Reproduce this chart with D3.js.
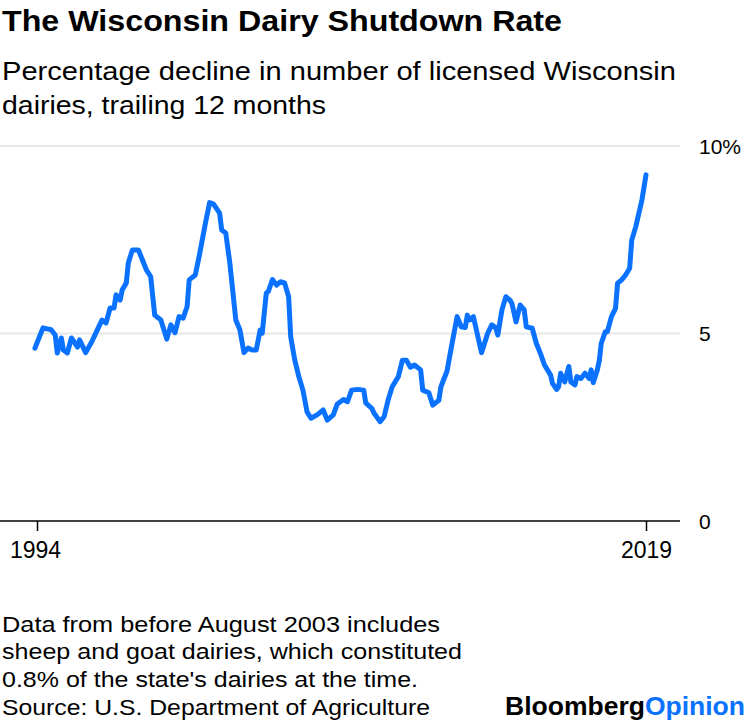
<!DOCTYPE html>
<html>
<head>
<meta charset="utf-8">
<script src="https://cdn.jsdelivr.net/npm/d3@7"></script>
<style>
  html, body { margin: 0; padding: 0; background: #fff; }
  svg { display: block; }
  text { font-family: "Liberation Sans", Arial, sans-serif; }
</style>
</head>
<body>
<svg id="chart" width="750" height="720"></svg>
<script>
// ---- Data ----
const months = [
  "1993-12","1994-04","1994-08","1994-10","1994-11","1995-01","1995-02","1995-04","1995-06","1995-09",
  "1995-10","1996-01","1996-04","1996-06","1996-09","1996-11","1997-01","1997-03","1997-04","1997-06",
  "1997-07","1997-09","1997-10","1997-12","1998-03","1998-05","1998-07","1998-09","1998-11","1999-02",
  "1999-05","1999-07","1999-09","1999-11","2000-01","2000-03","2000-04","2000-07","2000-09","2000-12",
  "2001-02","2001-04","2001-07","2001-08","2001-10","2001-12","2002-03","2002-05","2002-07","2002-09",
  "2002-11","2003-01","2003-03","2003-04","2003-06","2003-07","2003-09","2003-11","2004-01","2004-03",
  "2004-05","2004-06","2004-08","2004-10","2004-12","2005-02","2005-04","2005-07","2005-10","2005-12",
  "2006-03","2006-05","2006-08","2006-10","2006-12","2007-03","2007-06","2007-07","2007-10","2007-11",
  "2008-02","2008-04","2008-06","2008-08","2008-11","2009-01","2009-03","2009-05","2009-07","2009-10",
  "2009-11","2010-02","2010-04","2010-07","2010-08","2010-11","2011-01","2011-04","2011-06","2011-08",
  "2011-09","2011-10","2011-12","2012-02","2012-04","2012-06","2012-07","2012-09","2012-11","2012-12",
  "2013-02","2013-04","2013-06","2013-07","2013-09","2013-11","2014-01","2014-02","2014-05","2014-07",
  "2014-09","2014-11","2015-02","2015-03","2015-05","2015-06","2015-07","2015-09","2015-11","2015-12",
  "2016-02","2016-03","2016-05","2016-07","2016-09","2016-10","2016-11","2017-01","2017-02","2017-03",
  "2017-05","2017-06","2017-08","2017-10","2017-11","2018-01","2018-03","2018-05","2018-06","2018-08",
  "2018-11","2019-01"
];
const declinePct = [
  4.61,5.15,5.10,4.96,4.48,4.88,4.56,4.48,4.88,4.64,
  4.83,4.49,4.78,5.01,5.36,5.28,5.68,5.68,6.03,5.89,
  6.16,6.35,6.88,7.23,7.23,6.96,6.69,6.52,5.49,5.36,
  4.85,5.23,5.02,5.45,5.41,5.72,6.43,6.56,7.09,7.95,
  8.49,8.45,8.21,7.76,7.68,6.88,5.36,5.10,4.49,4.61,
  4.56,4.56,5.09,5.01,6.08,6.12,6.44,6.29,6.38,6.35,
  5.98,4.91,4.29,3.85,3.49,2.91,2.74,2.83,2.96,2.69,
  2.83,3.12,3.24,3.18,3.49,3.51,3.49,3.15,3.00,2.88,
  2.65,2.78,3.23,3.58,3.85,4.29,4.29,4.10,4.16,4.03,
  3.49,3.42,3.09,3.22,3.58,4.00,4.60,5.45,5.18,5.16,
  5.49,5.36,5.45,4.96,4.49,4.83,5.00,5.23,5.15,4.96,
  5.63,5.98,5.89,5.80,5.31,5.76,5.63,5.18,5.14,4.74,
  4.47,4.16,3.89,3.67,3.51,3.58,3.94,3.71,4.12,3.71,
  3.63,3.85,3.80,3.94,3.80,4.03,3.69,4.03,4.29,4.74,
  5.05,5.05,5.45,5.67,6.34,6.43,6.56,6.74,7.49,7.85,
  8.56,9.23
];
const xTickDates = ["1994-01","2019-01"];
const xTickLabels = ["1994","2019"];
const yTicks = [0, 5, 10];
const yTickLabels = ["0","5","10%"];

const titleText = "The Wisconsin Dairy Shutdown Rate";
const subtitleLines = ["Percentage decline in number of licensed Wisconsin", "dairies, trailing 12 months"];
const noteLines = [
  "Data from before August 2003 includes",
  "sheep and goat dairies, which constituted",
  "0.8% of the state's dairies at the time.",
  "Source: U.S. Department of Agriculture"
];

// ---- Drawing ----
const parse = d3.timeParse("%Y-%m");
const data = months.map((m, i) => ({ date: parse(m), value: declinePct[i] }));

const svg = d3.select("#chart");

const x = d3.scaleTime()
  .domain([parse(xTickDates[0]), parse(xTickDates[1])])
  .range([37, 646]);
const y = d3.scaleLinear().domain([0, 10]).range([521, 146]);

function fitText(sel, width) {
  sel.attr("textLength", width).attr("lengthAdjust", "spacingAndGlyphs");
}

// Title
svg.append("text")
  .attr("x", 2).attr("y", 31)
  .attr("font-size", 30).attr("font-weight", "bold").attr("fill", "#000")
  .text(titleText).call(fitText, 560);

// Subtitle
const subW = [674, 324];
subtitleLines.forEach((t, i) => {
  svg.append("text")
    .attr("x", 2).attr("y", 79.5 + i * 34.5)
    .attr("font-size", 26).attr("fill", "#000")
    .text(t).call(fitText, subW[i]);
});

// Gridlines (non-zero)
svg.append("g").selectAll("line")
  .data(yTicks.filter(d => d !== 0))
  .join("line")
  .attr("x1", 0).attr("x2", 680)
  .attr("y1", d => y(d)).attr("y2", d => y(d))
  .attr("stroke", "#e8e8e8").attr("stroke-width", 2);

// Y axis labels (right side)
svg.append("g").selectAll("text")
  .data(yTicks)
  .join("text")
  .attr("x", 699)
  .attr("y", d => y(d) + 7.5)
  .attr("font-size", 21).attr("fill", "#000")
  .text((d, i) => yTickLabels[i]);

// X axis baseline
svg.append("line")
  .attr("x1", 0).attr("x2", 680)
  .attr("y1", y(0)).attr("y2", y(0))
  .attr("stroke", "#000").attr("stroke-width", 1.5);

// X axis ticks + labels via d3 axis
const xAxis = d3.axisBottom(x)
  .tickValues(xTickDates.map(parse))
  .tickFormat((d, i) => xTickLabels[i])
  .tickSize(10)
  .tickPadding(11);
const gx = svg.append("g")
  .attr("transform", `translate(0,${y(0)})`)
  .call(xAxis);
gx.select(".domain").remove();
gx.selectAll(".tick line").attr("stroke", "#000").attr("stroke-width", 1.5);
gx.selectAll(".tick text")
  .attr("font-family", '"Liberation Sans", Arial, sans-serif')
  .attr("font-size", 23).attr("fill", "#000")
  .attr("dy", "0.71em")
  .attr("dx", (d, i) => i === 0 ? -2 : 0);

// Line
const line = d3.line()
  .x(d => x(d.date))
  .y(d => y(d.value))
  .curve(d3.curveLinear);
svg.append("path")
  .datum(data)
  .attr("d", line)
  .attr("fill", "none")
  .attr("stroke", "#0a72ff")
  .attr("stroke-width", 5)
  .attr("stroke-linejoin", "round")
  .attr("stroke-linecap", "round");

// Footnote
const noteW = [438, 460, 416, 428];
noteLines.forEach((t, i) => {
  svg.append("text")
    .attr("x", 2).attr("y", 631.5 + i * 27.8)
    .attr("font-size", 22.5).attr("fill", "#000")
    .text(t).call(fitText, noteW[i]);
});

// Logo
const logo = svg.append("text")
  .attr("x", 505).attr("y", 715)
  .attr("font-size", 25).attr("font-weight", "bold")
  .attr("textLength", 240).attr("lengthAdjust", "spacingAndGlyphs");
logo.append("tspan").attr("fill", "#000").text("Bloomberg");
logo.append("tspan").attr("fill", "#0a72ff").text("Opinion");
</script>
</body>
</html>
